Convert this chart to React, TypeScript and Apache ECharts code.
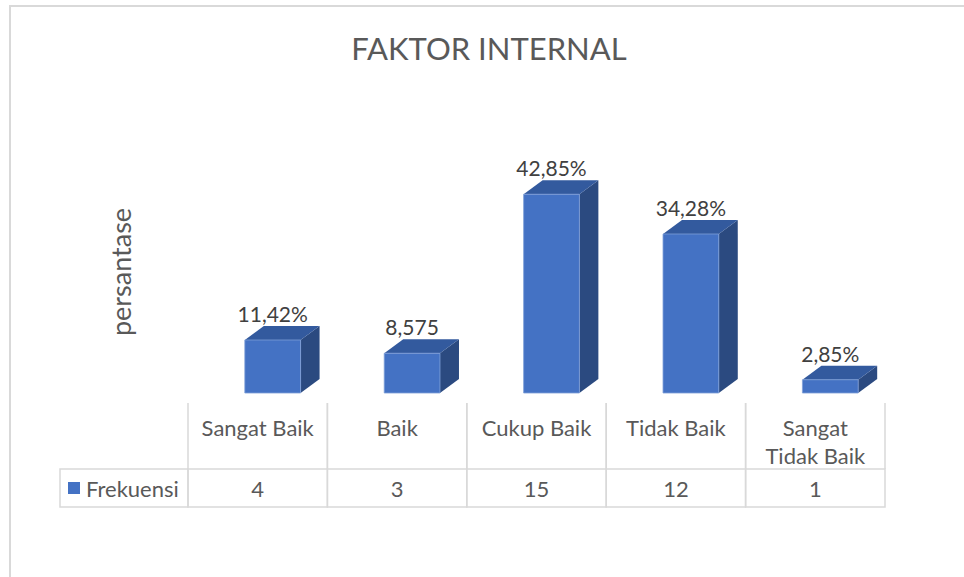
import React, { useEffect, useRef } from "react";
import * as echarts from "echarts";

const titleText = "FAKTOR INTERNAL";
const yAxisName = "persantase";
const seriesName = "Frekuensi";
const categories = ["Sangat Baik", "Baik", "Cukup Baik", "Tidak Baik", "Sangat\nTidak Baik"];
const frekuensi = [4, 3, 15, 12, 1];
const percentLabels = ["11,42%", "8,575", "42,85%", "34,28%", "2,85%"];

const FONT = "Lato, 'Open Sans', sans-serif";
const TEXT = "#595959";
const LINE = "#d9d9d9";
const FRONT = "#4472c4";
const TOP = "#335a9e";
const SIDE = "#2b4a80";
const DX = 19;
const DY = 14;
const HEADER_TOP = 403;
const BODY_SIZE = 22;
const LABEL_SIZE = 21;

export default function App() {
  const ref = useRef<HTMLDivElement>(null);

  useEffect(() => {
    const chart = echarts.init(ref.current!, null, { renderer: "svg" });
    chart.setOption({
      animation: false,
      backgroundColor: "#ffffff",
      textStyle: { fontFamily: FONT },
      grid: [
        { left: 203, right: 64, top: 181, bottom: 184 },
        { left: 188, right: 79, top: 469, bottom: 70 },
      ],
      xAxis: [
        { type: "category", gridIndex: 0, data: categories, show: false },
        { type: "category", gridIndex: 1, data: categories, show: false },
      ],
      yAxis: [
        {
          type: "value",
          gridIndex: 0,
          min: 0,
          max: 16,
          axisLine: { show: false },
          axisTick: { show: false },
          axisLabel: { show: false },
          splitLine: { show: false },
        },
        { type: "value", gridIndex: 1, min: 0, max: 1, show: false },
      ],
      graphic: [
        {
          type: "rect",
          z: -10,
          shape: { x: 10, y: 6, width: 1000, height: 700 },
          style: { fill: "none", stroke: LINE, lineWidth: 2 },
        },
        {
          type: "text",
          x: 489,
          y: 48,
          style: {
            text: titleText,
            fontFamily: FONT,
            fontSize: 31,
            fill: TEXT,
            align: "center",
            verticalAlign: "middle",
          },
        },
        {
          type: "text",
          x: 120,
          y: 272,
          rotation: Math.PI / 2,
          style: {
            text: yAxisName,
            fontFamily: FONT,
            fontSize: 27,
            fill: TEXT,
            align: "center",
            verticalAlign: "middle",
          },
        },
        {
          type: "rect",
          shape: { x: 60, y: 469, width: 128, height: 38 },
          style: { fill: "none", stroke: LINE, lineWidth: 1.5 },
        },
        {
          type: "rect",
          shape: { x: 68, y: 482, width: 12, height: 12 },
          style: { fill: FRONT },
        },
        {
          type: "text",
          x: 86,
          y: 488,
          style: {
            text: seriesName,
            fontFamily: FONT,
            fontSize: BODY_SIZE,
            fill: TEXT,
            align: "left",
            verticalAlign: "middle",
          },
        },
      ],
      series: [
        {
          type: "custom",
          name: seriesName,
          xAxisIndex: 0,
          yAxisIndex: 0,
          data: frekuensi.map((v, i) => [i, v]),
          renderItem: (params: any, api: any) => {
            const i = api.value(0);
            const v = api.value(1);
            const top = api.coord([i, v]);
            const base = api.coord([i, 0]);
            const band = api.size([1, 0])[0];
            const w = band * 0.4;
            const x0 = top[0] - w / 2;
            const x1 = top[0] + w / 2;
            const yT = top[1];
            const yB = base[1];
            return {
              type: "group",
              children: [
                {
                  type: "polygon",
                  shape: { points: [[x1, yB], [x1 + DX, yB - DY], [x1 + DX, yT - DY], [x1, yT]] },
                  style: { fill: SIDE },
                },
                {
                  type: "polygon",
                  shape: { points: [[x0, yT], [x0 + DX, yT - DY], [x1 + DX, yT - DY], [x1, yT]] },
                  style: { fill: TOP },
                },
                {
                  type: "rect",
                  shape: { x: x0, y: yT, width: w, height: yB - yT },
                  style: { fill: FRONT, stroke: "#7f9fd8", lineWidth: 0.8 },
                },
                {
                  type: "text",
                  x: top[0],
                  y: yT - DY - 2,
                  style: {
                    text: percentLabels[params.dataIndex],
                    fontFamily: FONT,
                    fontSize: LABEL_SIZE,
                    fill: "#404040",
                    align: "center",
                    verticalAlign: "bottom",
                  },
                },
              ],
            };
          },
        },
        {
          type: "custom",
          name: "table",
          xAxisIndex: 1,
          yAxisIndex: 1,
          data: frekuensi.map((v, i) => [i, v]),
          renderItem: (params: any, api: any) => {
            const i = api.value(0);
            const v = api.value(1);
            const bot = api.coord([i, 0]);
            const top = api.coord([i, 1]);
            const band = api.size([1, 0])[0];
            const l = bot[0] - band / 2;
            const r = bot[0] + band / 2;
            return {
              type: "group",
              children: [
                {
                  type: "line",
                  shape: { x1: l, y1: HEADER_TOP, x2: l, y2: top[1] },
                  style: { stroke: LINE, lineWidth: 1.5 },
                },
                {
                  type: "line",
                  shape: { x1: r, y1: HEADER_TOP, x2: r, y2: top[1] },
                  style: { stroke: LINE, lineWidth: 1.5 },
                },
                {
                  type: "rect",
                  shape: { x: l, y: top[1], width: r - l, height: bot[1] - top[1] },
                  style: { fill: "none", stroke: LINE, lineWidth: 1.5 },
                },
                {
                  type: "text",
                  x: bot[0],
                  y: 413,
                  style: {
                    text: categories[params.dataIndex],
                    fontFamily: FONT,
                    fontSize: BODY_SIZE,
                    lineHeight: 28,
                    fill: TEXT,
                    align: "center",
                    verticalAlign: "top",
                  },
                },
                {
                  type: "text",
                  x: bot[0],
                  y: (top[1] + bot[1]) / 2,
                  style: {
                    text: String(v),
                    fontFamily: FONT,
                    fontSize: BODY_SIZE,
                    fill: TEXT,
                    align: "center",
                    verticalAlign: "middle",
                  },
                },
              ],
            };
          },
        },
      ],
    });
    return () => chart.dispose();
  }, []);

  return (
    <div
      ref={ref}
      style={{ position: "absolute", left: 0, top: 0, width: 964, height: 577 }}
    />
  );
}
